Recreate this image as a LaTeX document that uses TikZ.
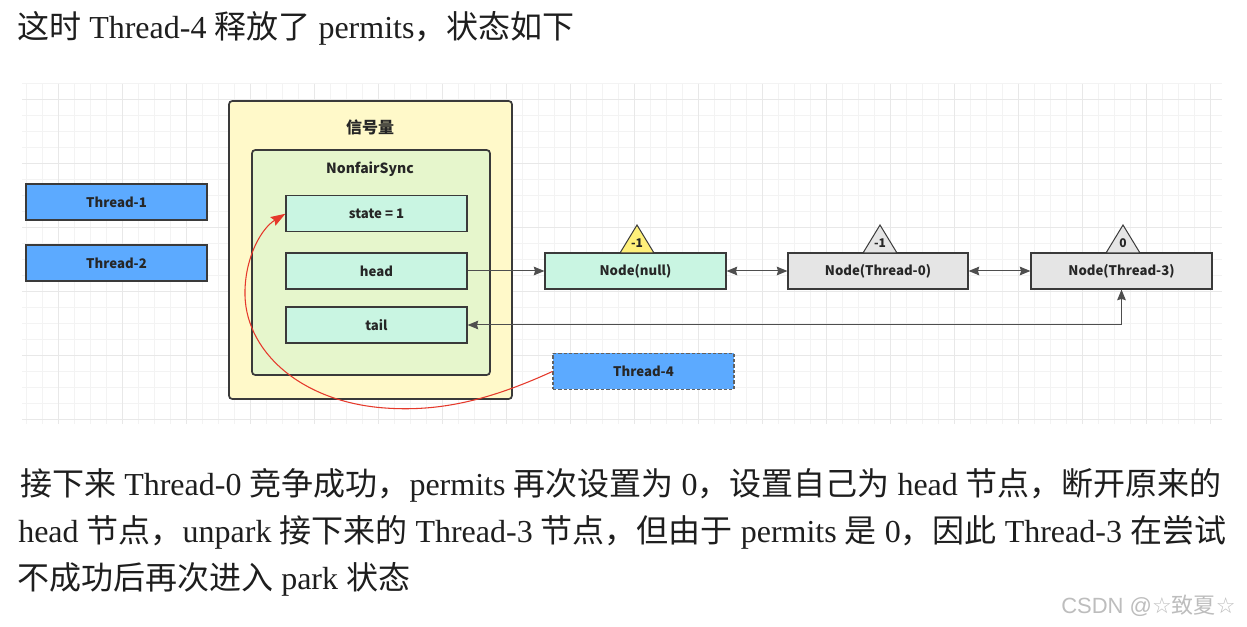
\documentclass[tikz,border=0pt]{standalone}
\usepackage{fontspec}
\usetikzlibrary{arrows.meta}
\setmainfont{Liberation Serif}
\newfontfamily\cjk{Noto Sans CJK SC}
\newfontfamily\dg{Noto Sans CJK SC}
\newfontfamily\wmfont{Liberation Sans}
\newfontfamily\starfont{DejaVu Sans}
\definecolor{yel}{HTML}{FFF9C9}
\definecolor{grn}{HTML}{E6F6CC}
\definecolor{mint}{HTML}{C9F5E2}
\definecolor{blu}{HTML}{5CAAFF}
\definecolor{gry}{HTML}{E5E5E5}
\definecolor{triy}{HTML}{FFF07A}
\definecolor{edge}{HTML}{3A3A3A}
\definecolor{txt}{HTML}{262626}
\definecolor{redc}{HTML}{E5392B}
\definecolor{gridminor}{HTML}{F3F3F3}
\definecolor{gridmajor}{HTML}{E8E8E8}
\definecolor{para}{HTML}{1E1E1E}
\definecolor{wmc}{HTML}{BDBDBD}
\begin{document}
\begin{tikzpicture}[x=0.75pt,y=-0.75pt,
  >={Stealth[length=8pt,width=6.5pt,inset=1pt]},
  container/.style={draw=edge, line width=1.3pt, rounded corners=2.5pt, inner sep=0pt},
  cell/.style={draw=edge, line width=0.9pt, inner sep=0pt, minimum width=135.75pt, minimum height=27pt,
    font=\dg\bfseries\fontsize{9.9pt}{11pt}\selectfont, text=txt},
  title/.style={font=\dg\bfseries\fontsize{10.5pt}{12pt}\selectfont, text=txt, inner sep=0pt},
  trilbl/.style={font=\dg\bfseries\fontsize{9pt}{10pt}\selectfont, text=txt, inner sep=0pt},
  tri/.style={draw=edge, line width=0.75pt},
  conn/.style={draw=edge!90, line width=0.75pt},
  paratext/.style={font=\fontsize{24pt}{28pt}\selectfont, text=para, inner sep=0pt, anchor=base west}
]
\fill[white] (0,0) rectangle (1247,627);
\useasboundingbox (0,0) rectangle (1247,627);

% grid
\foreach \k in {0,...,74} {
  \draw[gridminor, line width=0.75pt] ({26.5+16*\k},84) -- ({26.5+16*\k},424);
}
\foreach \k in {0,...,21} {
  \draw[gridminor, line width=0.75pt] (22,{84+16*\k}) -- (1222,{84+16*\k});
}
\foreach \k in {0,...,18} {
  \draw[gridmajor, line width=0.75pt] ({58.5+64*\k},84) -- ({58.5+64*\k},424);
}
\foreach \k in {0,...,5} {
  \draw[gridmajor, line width=0.75pt] (22,{100+64*\k}) -- (1222,{100+64*\k});
}

% texts
\node[paratext] (t0) at (17,39) {{\cjk 这时} Thread-4 {\cjk 释放了} permits{\cjk ，状态如下}};
\node[paratext] (p1) at (20,495) {{\cjk 接下来} Thread-0 {\cjk 竞争成功，}permits {\cjk 再次设置为} 0{\cjk ，设置自己为} head {\cjk 节点，断开原来的}};
\node[paratext] (p2) at (18,542.3) {head {\cjk 节点，}unpark {\cjk 接下来的} Thread-3 {\cjk 节点，但由于} permits {\cjk 是} 0{\cjk ，因此} Thread-3 {\cjk 在尝试}};
\node[paratext] (p3) at (17,589.5) {{\cjk 不成功后再次进入} park {\cjk 状态}};

% containers
\node[container, fill=yel, minimum width=212.25pt, minimum height=223.5pt] (outer) at (370.5,250) {};
\node[title, font=\dg\bfseries\fontsize{12pt}{13pt}\selectfont] (outerT) at (370,127) {信号量};
\node[container, fill=grn, minimum width=178.5pt, minimum height=168.75pt] (inner) at (371,262.5) {};
\node[title] (innerT) at (370,169) {NonfairSync};

\node[cell, fill=mint] (st) at (376.5,213.75) {state = 1};
\node[cell, fill=mint] (head) at (376.5,271) {head};
\node[cell, fill=mint] (tail) at (376.5,325) {tail};

\node[cell, fill=blu] (th1) at (116.5,202) {Thread-1};
\node[cell, fill=blu] (th2) at (116.5,263) {Thread-2};
\node[cell, fill=blu, draw=edge!80, dashed, dash pattern=on 2.5pt off 1.5pt] (th4) at (643.5,371.5) {Thread-4};

\node[cell, fill=mint] (nnull) at (635.5,271) {Node(null)};
\node[cell, fill=gry, minimum width=135pt] (n0) at (878,271) {Node(Thread-0)};
\node[cell, fill=gry] (n3) at (1121.5,271) {Node(Thread-3)};

% triangles
\filldraw[tri, fill=triy] (620,253) -- (637,225) -- (654,253) -- cycle;
\node[trilbl] (tr1) at (637,243) {-1};
\filldraw[tri, fill=gry] (863,253) -- (880,225) -- (897,253) -- cycle;
\node[trilbl] (tr2) at (880,243) {-1};
\filldraw[tri, fill=gry] (1106,253) -- (1123,225) -- (1140,253) -- cycle;
\node[trilbl] (tr3) at (1123,243) {0};

% connectors
\draw[conn, ->] (head.east) -- (nnull.west);
\draw[conn, <->] (nnull.east) -- (n0.west);
\draw[conn, <->] (n0.east) -- (n3.west);
\draw[conn, <->] (tail.east) -| (n3.south);

% red curve
\draw[redc, line width=0.8pt, -{Stealth[length=11pt,width=7.5pt,inset=1.5pt]}]
  (th4.west) .. controls (490,400) and (440,412) .. (385,408)
  .. controls (300,402) and (243,350) .. (245,290)
  .. controls (246,255) and (262,228) .. (st.west);

% watermark
\node[anchor=base west, inner sep=0pt, text=wmc, font=\wmfont\fontsize{16.5pt}{18pt}\selectfont] (wm) at (1061,613)
  {CSDN @{\starfont ☆}{\cjk 致夏}{\starfont ☆}};
\end{tikzpicture}
\end{document}
